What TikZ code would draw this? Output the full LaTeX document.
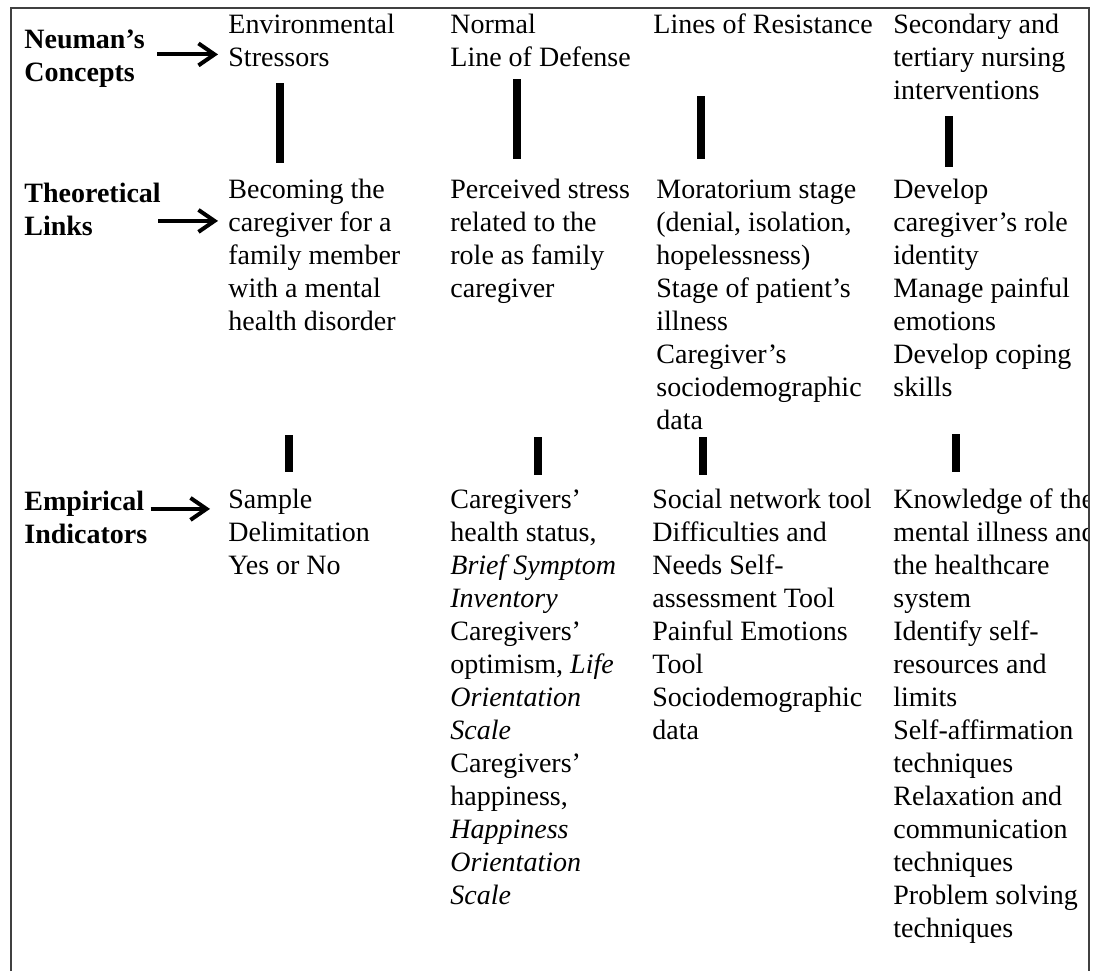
\documentclass[tikz,border=0pt]{standalone}
\usepackage{fontspec}
\setmainfont{Liberation Serif}
\usetikzlibrary{arrows.meta}

\begin{document}
\begin{tikzpicture}[x=0.5pt,y=-0.5pt]


\tikzset{
  TextStyle/.style = { anchor=north west, inner sep=0pt, align=left,
                       font=\fontsize{14}{16.5}\selectfont },
  LabelStyle/.style = { TextStyle,
                       font=\fontsize{14}{16.5}\selectfont\bfseries },
  ArrowStyle/.style = { line width=2pt,
                       -{Straight Barb[length=8pt,width=11pt]} },
  BarStyle/.style = { line width=4pt },
  FrameStyle/.style = { draw=black!75, line width=1pt } }
  \useasboundingbox (0,0) rectangle (1097,971);

  \begin{scope}
  \clip (11,8) rectangle (1088,971);
  % row labels
  \node[LabelStyle] (k1) at (24, 25) {\strut Neuman’s\\Concepts\strut};
  \node[LabelStyle] (k2) at (24,179) {\strut Theoretical\\Links\strut};
  \node[LabelStyle] (k3) at (24,487) {\strut Empirical\\Indicators\strut};

  % Neuman's concepts
  \node[TextStyle] (c1) at (228,10) {\strut Environmental\\Stressors};
  \node[TextStyle] (c2) at (450,10) {\strut Normal\\Line of Defense};
  \node[TextStyle] (c3) at (653,10) {\strut Lines of Resistance};
  \node[TextStyle] (c4) at (893,10) {\strut Secondary and\\tertiary nursing\\interventions};

  % theoretical links
  \node[TextStyle] (l1) at (228,175) {\strut Becoming the\\caregiver for a\\family member\\with a mental\\health disorder};
  \node[TextStyle] (l2) at (450,175) {\strut Perceived stress\\related to the\\role as family\\caregiver};
  \node[TextStyle] (l3) at (656,175) {\strut Moratorium stage\\(denial, isolation,\\hopelessness)\\Stage of patient’s\\illness\\Caregiver’s\\sociodemographic\\data};
  \node[TextStyle] (l4) at (893,175) {\strut Develop\\caregiver’s role\\identity\\Manage painful\\emotions\\Develop coping\\skills};

  % empirical indicators
  \node[TextStyle] (e1) at (228,485) {\strut Sample\\Delimitation\\Yes or No};
  \node[TextStyle] (e2) at (450,485) {\strut Caregivers’\\health status,\\\textit{Brief Symptom}\\\textit{Inventory}\\Caregivers’\\optimism, \textit{Life}\\\textit{Orientation}\\\textit{Scale}\\Caregivers’\\happiness,\\\textit{Happiness}\\\textit{Orientation}\\\textit{Scale}};
  \node[TextStyle] (e3) at (652,485) {\strut Social network tool\\Difficulties and\\Needs Self-\\assessment Tool\\Painful Emotions\\Tool\\Sociodemographic\\data};
  \node[TextStyle] (e4) at (893,485) {\strut Knowledge of the\\mental illness and\\the healthcare\\system\\Identify self-\\resources and\\limits\\Self-affirmation\\techniques\\Relaxation and\\communication\\techniques\\Problem solving\\techniques};
  \end{scope}

  % arrows
  \draw[ArrowStyle, shorten <=6pt, shorten >=5pt]
    ([yshift=2pt]k1.east) -- ([yshift=2pt]k1.east -| c1.west);
  \draw[ArrowStyle, shorten <=-1.5pt, shorten >=5pt]
    ([yshift=-4.25pt]k2.east) -- ([yshift=-4.25pt]k2.east -| l1.west);
  \draw[ArrowStyle, shorten <=1.5pt, shorten >=9pt]
    ([yshift=5.75pt]k3.east) -- ([yshift=5.75pt]k3.east -| e1.west);

  % bars between the rows
  \coordinate (a1) at (280,83);  \coordinate (b1) at (280,163);
  \coordinate (a2) at (517,79);  \coordinate (b2) at (517,159);
  \coordinate (a3) at (701,96);  \coordinate (b3) at (701,159);
  \coordinate (a4) at (949,116); \coordinate (b4) at (949,167);
  \coordinate (d1) at (289,435); \coordinate (f1) at (289,472);
  \coordinate (d2) at (538,437); \coordinate (f2) at (538,475);
  \coordinate (d3) at (703,437); \coordinate (f3) at (703,475);
  \coordinate (d4) at (956,434); \coordinate (f4) at (956,472);
  \foreach \i in {1,...,4}{
    \draw[BarStyle] (a\i) -- (b\i);
    \draw[BarStyle] (d\i) -- (f\i);
  }

  % frame
  \draw[FrameStyle] (11,971) -- (11,8) -- (1089,8) -- (1089,971);

\end{tikzpicture}
\end{document}
